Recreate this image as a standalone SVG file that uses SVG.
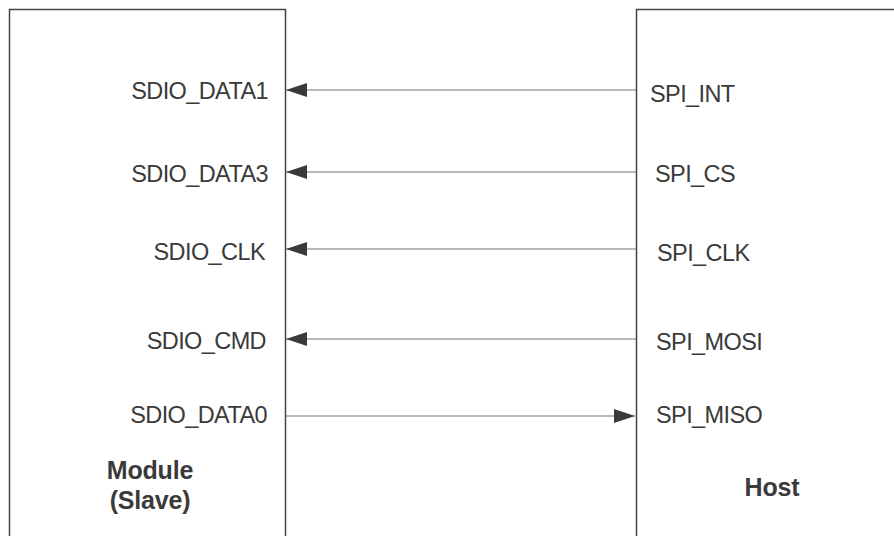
<svg xmlns="http://www.w3.org/2000/svg" width="894" height="536" viewBox="0 0 894 536">
  <style>
    .box { fill: #ffffff; stroke: #444444; stroke-width: 1.5; }
    .pin { font-family: "Liberation Sans", Arial, sans-serif; font-size: 23.5px; letter-spacing: -0.6px; fill: #3a3a3a; }
    .pin-l { text-anchor: end; }
    .title { font-family: "Liberation Sans", Arial, sans-serif; font-size: 25px; letter-spacing: -0.2px; font-weight: bold; fill: #3a3a3a; text-anchor: middle; }
    .wire { stroke: #777777; stroke-width: 1.2; fill: none; marker-end: url(#head); }
  </style>
  <defs>
    <marker id="head" markerUnits="userSpaceOnUse" markerWidth="22" markerHeight="14" refX="21" refY="7" orient="auto">
      <path d="M0,0 L21,7 L0,14 Z" fill="#3a3a3a"/>
    </marker>
  </defs>
  <rect width="894" height="536" fill="#ffffff"/>

  <g id="module">
    <path class="box" d="M9.5,540 V9.5 H285.5 V540"/>
    <text class="pin pin-l" x="268" y="99">SDIO_DATA1</text>
    <text class="pin pin-l" x="268" y="182">SDIO_DATA3</text>
    <text class="pin pin-l" x="265" y="260">SDIO_CLK</text>
    <text class="pin pin-l" x="266" y="349">SDIO_CMD</text>
    <text class="pin pin-l" x="267" y="423">SDIO_DATA0</text>
    <text class="title" x="150" y="479">Module</text>
    <text class="title" x="150" y="509">(Slave)</text>
  </g>

  <g id="host">
    <path class="box" d="M900,9.5 H636.5 V540"/>
    <text class="pin" x="650" y="102">SPI_INT</text>
    <text class="pin" x="655" y="182">SPI_CS</text>
    <text class="pin" x="657" y="261">SPI_CLK</text>
    <text class="pin" x="656" y="350">SPI_MOSI</text>
    <text class="pin" x="656" y="423">SPI_MISO</text>
    <text class="title" x="772" y="496">Host</text>
  </g>

  <g id="connectors">
    <line class="wire" x1="636" y1="90" x2="286" y2="90"/>
    <line class="wire" x1="636" y1="172" x2="286" y2="172"/>
    <line class="wire" x1="636" y1="249" x2="286" y2="249"/>
    <line class="wire" x1="636" y1="339" x2="286" y2="339"/>
    <line class="wire" x1="286" y1="416" x2="635" y2="416"/>
  </g>
</svg>
